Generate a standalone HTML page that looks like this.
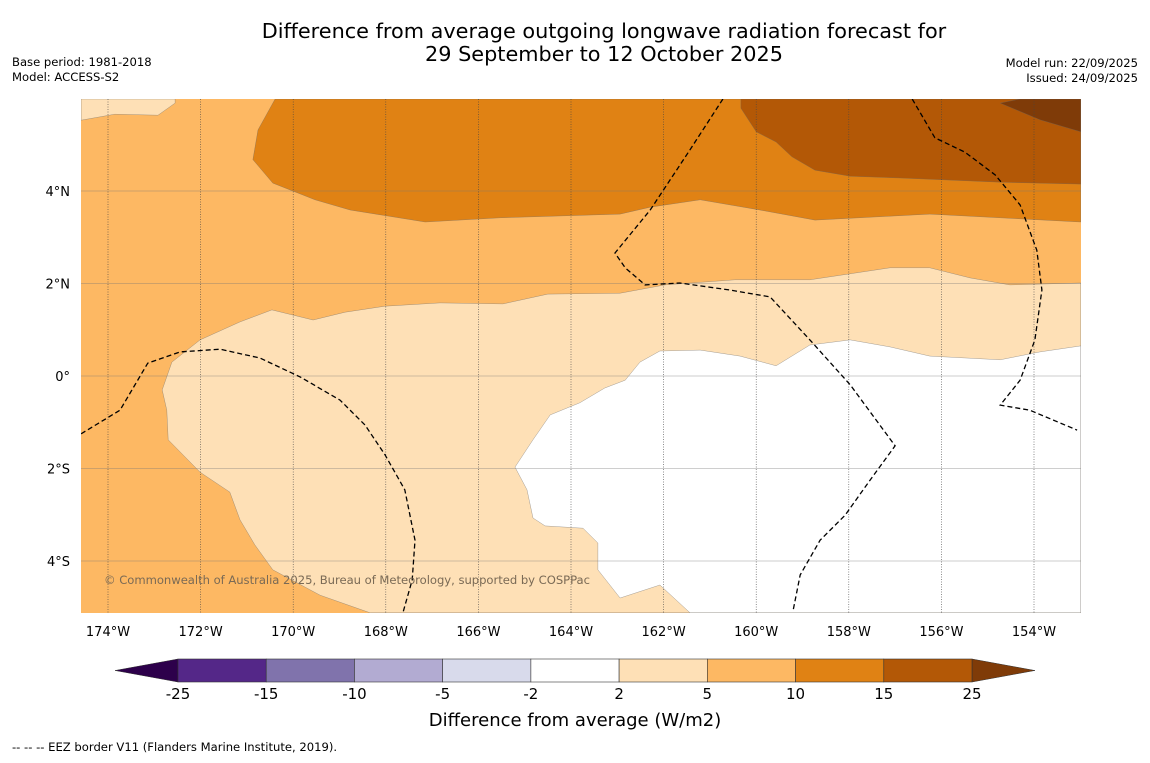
<!DOCTYPE html>
<html><head><meta charset="utf-8"><style>
body{margin:0;background:#fff;font-family:"Liberation Sans","DejaVu Sans",sans-serif}
svg text{font-family:"DejaVu Sans","Liberation Sans",sans-serif}
</style></head><body>
<svg id="s" width="1150" height="758">
<text x="604" y="38" text-anchor="middle" font-size="20.8">Difference from average outgoing longwave radiation forecast for</text>
<text x="604" y="61" text-anchor="middle" font-size="20.8">29 September to 12 October 2025</text>
<text x="12" y="66" font-size="11.6">Base period: 1981-2018</text>
<text x="12" y="81" font-size="11.6">Model: ACCESS-S2</text>
<text x="1138" y="67" font-size="11.6" text-anchor="end">Model run: 22/09/2025</text>
<text x="1138" y="82" font-size="11.6" text-anchor="end">Issued: 24/09/2025</text>
<defs><clipPath id="mc"><rect x="81" y="99" width="1000" height="514"/></clipPath></defs>
<g id="map" clip-path="url(#mc)"></g>
<g id="axes"></g>
<g id="cbar"></g>
<text x="575" y="726" text-anchor="middle" font-size="18">Difference from average (W/m2)</text>
<text x="12" y="751" font-size="11.6">--  --  -- EEZ border V11 (Flanders Marine Institute, 2019).</text>
</svg>
<script>
const lonTicks=[-174,-172,-170,-168,-166,-164,-162,-160,-158,-156,-154];
const latTicks=[4,2,0,-2,-4];
const lonLabels=["174°W","172°W","170°W","168°W","166°W","164°W","162°W","160°W","158°W","156°W","154°W"];
const latLabels=["4°N","2°N","0°","2°S","4°S"];
const cbLevels=["-25","-15","-10","-5","-2","2","5","10","15","25"];
const cbColors=["#542788","#8073ac","#b2abd2","#d8daeb","#ffffff","#fee0b6","#fdb863","#e08214","#b35806"];
const band10=[[-170.39,5.99],[-170.76,5.32],[-170.87,4.68],[-170.44,4.17],[-169.53,3.81],[-168.77,3.59],[-167.15,3.33],[-165.53,3.42],[-162.94,3.5],[-162.29,3.65],[-161.21,3.81],[-159.92,3.59],[-158.73,3.37],[-156.25,3.5],[-154.73,3.42],[-152.99,3.33],[-152.99,5.99]];
const band15=[[-160.33,5.99],[-160.33,5.79],[-160.0,5.28],[-159.57,5.06],[-159.23,4.74],[-158.73,4.45],[-157.97,4.32],[-156.89,4.28],[-154.73,4.19],[-152.99,4.15],[-152.99,5.99]];
const band25=[[-154.73,5.9],[-154.3,5.99],[-152.99,5.99],[-152.99,5.28],[-153.87,5.54]];
const band2=[[-168.34,-5.12],[-169.42,-4.74],[-170.44,-4.19],[-170.83,-3.65],[-171.15,-3.11],[-171.37,-2.51],[-172.01,-2.08],[-172.7,-1.38],[-172.73,-0.74],[-172.83,-0.3],[-172.62,0.3],[-172.01,0.78],[-171.15,1.17],[-170.46,1.43],[-169.57,1.21],[-168.88,1.38],[-168.02,1.51],[-166.83,1.58],[-165.47,1.56],[-164.5,1.77],[-162.94,1.79],[-161.97,1.97],[-160.46,2.08],[-158.84,2.08],[-157.11,2.34],[-156.25,2.34],[-155.38,2.12],[-154.52,1.97],[-152.99,2.01],[-152.99,-5.12]];
const band2b=[[-174.58,5.99],[-172.55,5.99],[-172.55,5.9],[-172.92,5.64],[-173.85,5.66],[-174.58,5.53]];
const bandW=[[-161.43,-5.12],[-162.08,-4.52],[-162.94,-4.8],[-163.42,-4.19],[-163.42,-3.61],[-163.74,-3.29],[-164.56,-3.24],[-164.82,-3.07],[-164.95,-2.46],[-165.21,-1.97],[-164.82,-1.38],[-164.45,-0.84],[-163.81,-0.58],[-163.27,-0.26],[-162.83,-0.09],[-162.51,0.3],[-162.08,0.54],[-161.21,0.56],[-160.35,0.43],[-159.57,0.22],[-158.84,0.67],[-157.97,0.78],[-157.11,0.63],[-156.25,0.43],[-154.73,0.35],[-153.87,0.52],[-152.99,0.65],[-152.99,-5.12]];
const eez1=[[-174.58,-1.25],[-173.74,-0.74],[-173.14,0.28],[-172.44,0.52],[-171.58,0.58],[-170.72,0.39],[-169.85,-0.02],[-168.99,-0.52],[-168.45,-1.06],[-168.02,-1.7],[-167.59,-2.46],[-167.37,-3.55],[-167.43,-4.41],[-167.63,-5.12]];
const eez2=[[-160.72,5.99],[-161.43,4.89],[-162.29,3.59],[-163.05,2.66],[-162.83,2.34],[-162.4,1.97],[-161.65,2.01],[-160.57,1.86],[-159.7,1.71],[-158.84,0.78],[-157.97,-0.19],[-157.0,-1.51],[-157.54,-2.25],[-158.08,-3.01],[-158.62,-3.55],[-159.05,-4.3],[-159.2,-5.06]];
const eez3=[[-156.63,5.99],[-156.14,5.15],[-155.49,4.84],[-154.84,4.35],[-154.3,3.7],[-153.94,2.72],[-153.83,1.86],[-153.98,0.78],[-154.3,-0.09],[-154.73,-0.63],[-154.09,-0.74],[-153.07,-1.17]];

const X=lon=>108+(lon+174)*46.3;
const Y=lat=>376-lat*46.25;
const NS="http://www.w3.org/2000/svg";
function mk(t,a,p){const e=document.createElementNS(NS,t);for(const k in a)e.setAttribute(k,a[k]);p.appendChild(e);return e;}
const map=document.getElementById('map'),axes=document.getElementById('axes'),cb=document.getElementById('cbar');
const bg=mk('rect',{x:81,y:99,width:1000,height:514,fill:"#fdb863"},map);


const pts=a=>a.map(p=>X(p[0]).toFixed(1)+","+Y(p[1]).toFixed(1)).join(" ");
[[band10,"#e08214","band-10-15"],[band15,"#b35806","band-15-25"],[band25,"#7f3b08","band-over-25"],[band2,"#fee0b6","band-2-5"],[band2b,"#fee0b6","band-2-5-nw"],[bandW,"#ffffff","band-neutral"]].forEach(b=>{
 const e=mk('polygon',{points:pts(b[0]),fill:b[1],stroke:"#666","stroke-width":0.3},map);
 
 
});
lonTicks.forEach((l,i)=>{
 const g=mk('line',{x1:X(l),x2:X(l),y1:99,y2:613,stroke:"#444","stroke-width":0.6,"stroke-dasharray":"1,1.5"},map);
 
 
 const t=mk('text',{x:X(l),y:636,"text-anchor":"middle","font-size":13},axes);t.textContent=lonLabels[i];
 
 
});
latTicks.forEach((l,i)=>{
 const g=mk('line',{x1:81,x2:1081,y1:Y(l),y2:Y(l),stroke:"#777","stroke-width":0.6,opacity:0.7},map);
 
 
 const t=mk('text',{x:70,y:Y(l)+5,"text-anchor":"end","font-size":13},axes);t.textContent=latLabels[i];
 
 
});
[eez1,eez2,eez3].forEach(a=>{
 const e=mk('polyline',{points:pts(a),fill:"none",stroke:"#000","stroke-width":1.3,"stroke-dasharray":"5,3"},map);
 
 
});
const cr=mk('text',{x:104,y:584,"font-size":11.6,fill:"#7a6a55",textLength:486},map);
cr.textContent="© Commonwealth of Australia 2025, Bureau of Meteorology, supported by COSPPac";


const cx0=178,cx1=972,cy=659,ch=23,w=(cx1-cx0)/cbColors.length;
const la=mk('polygon',{points:`115,${cy+ch/2} ${cx0},${cy} ${cx0},${cy+ch}`,fill:"#2d004b",stroke:"#333","stroke-width":0.5},cb);


const ra=mk('polygon',{points:`1035,${cy+ch/2} ${cx1},${cy} ${cx1},${cy+ch}`,fill:"#7f3b08",stroke:"#333","stroke-width":0.5},cb);


cbColors.forEach((c,i)=>{
 const r=mk('rect',{x:cx0+i*w,y:cy,width:w,height:ch,fill:c,stroke:"#333","stroke-width":0.6},cb);
 
 
});
cbLevels.forEach((v,i)=>{
 const t=mk('text',{x:cx0+i*w,y:699,"text-anchor":"middle","font-size":15},cb);t.textContent=v;
 
 
});
</script>
</body></html>
